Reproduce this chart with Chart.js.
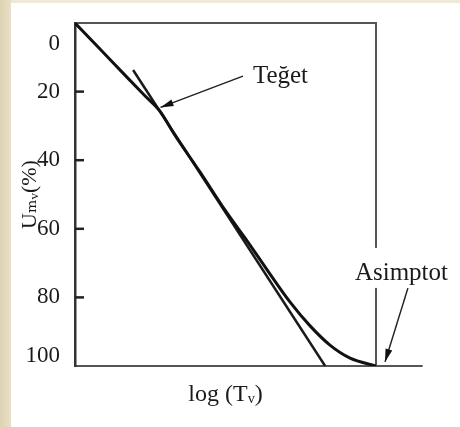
<!DOCTYPE html>
<html>
<head>
<meta charset="utf-8">
<script src="https://cdn.jsdelivr.net/npm/chart.js@4"></script>
<style>
  html, body { margin: 0; padding: 0; }
  body {
    width: 460px; height: 427px; overflow: hidden; position: relative;
    background: linear-gradient(to right, #ddd3b3 0px, #e8e0c8 11px, #efe9d9 12px);
  }
  #wrap { position: absolute; left: 11px; top: 3px; width: 449px; height: 424px; background: #fff; }
</style>
</head>
<body>
<div id="wrap"><canvas id="my-chart"></canvas></div>
<script>
// consolidation curve (x = log(Tv) in arbitrary units, y = Umv %)
const curveX = [0, 8.3, 16.6, 23.3, 28.2, 33.2, 41.5, 49.8, 58.1, 64.8, 71.4, 78.1, 84.7, 91.4, 100];
const curveY = [0, 7.6, 15.2, 21.3, 25.7, 32.7, 43.4, 54.5, 64.7, 73.2, 81.3, 88.3, 93.9, 97.7, 100];

// tangent line
const tangentX = [19.3, 83.1];
const tangentY = [13.7, 100];

// asymptote (continuation of the 100 % line past the frame)
const asymX = [100, 115.5];
const asymY = [100, 100];

// annotation arrows (last point = arrow tip)
const tegetArrowX = [55.8, 28.4];
const tegetArrowY = [15.5, 24.6];
const asimArrowX = [110.6, 103.0];
const asimArrowY = [77.3, 98.8];

const yTicks = [0, 20, 40, 60, 80, 100];
const yMarks = [20, 40, 60, 80];

const toPoints = (xs, ys) => xs.map((x, i) => ({ x, y: ys[i] }));

const serif = "'Liberation Serif', 'DejaVu Serif', serif";

// arrow heads and the two labels
const extras = {
  id: "extras",
  afterDatasetsDraw(chart) {
    const ctx = chart.ctx;
    const xs = chart.scales.x;
    const ys = chart.scales.y;

    // arrow heads at the end of the annotation lines
    chart.data.datasets.forEach((ds, i) => {
      if (!ds.arrow) return;
      const pts = chart.getDatasetMeta(i).data;
      const a = pts[pts.length - 2];
      const b = pts[pts.length - 1];
      const ang = Math.atan2(b.y - a.y, b.x - a.x);
      ctx.save();
      ctx.translate(b.x, b.y);
      ctx.rotate(ang);
      ctx.fillStyle = "#111";
      ctx.beginPath();
      ctx.moveTo(0, 0);
      ctx.lineTo(-13, -3.5);
      ctx.lineTo(-13, 3.5);
      ctx.closePath();
      ctx.fill();
      ctx.restore();
    });

    // labels, placed on data coordinates
    ctx.save();
    ctx.font = "25px " + serif;
    ctx.textBaseline = "alphabetic";
    ctx.textAlign = "left";

    // Asimptot sits on a white patch that breaks the right frame line
    const ax = xs.getPixelForValue(93.0);
    const ay = ys.getPixelForValue(74.9);
    const w = ctx.measureText("Asimptot").width;
    ctx.fillStyle = "#fff";
    ctx.fillRect(ax - 2, ay - 32, w + 4, 40);
    ctx.fillStyle = "#1a1a1a";
    ctx.fillText("Asimptot", ax, ay);

    ctx.fillText("Teğet", xs.getPixelForValue(59.1), ys.getPixelForValue(17.5));
    ctx.restore();
  }
};

const ctx = document.getElementById("my-chart").getContext("2d");

// short inward tick marks on the y axis, drawn as tiny line datasets
const tickSets = yMarks.map(v => ({
  data: [{ x: 0, y: v }, { x: 3, y: v }],
  borderColor: "#222",
  borderWidth: 2.5,
  pointRadius: 0
}));

const myChart = new Chart(ctx, {
  type: "line",
  data: {
    datasets: [
      {
        data: toPoints(curveX, curveY),
        borderColor: "#111",
        borderWidth: 3,
        cubicInterpolationMode: "monotone",
        pointRadius: 0
      },
      {
        data: toPoints(tangentX, tangentY),
        borderColor: "#1a1a1a",
        borderWidth: 2.5,
        pointRadius: 0
      },
      {
        data: toPoints(asymX, asymY),
        borderColor: "#555",
        borderWidth: 2,
        pointRadius: 0,
        clip: false
      },
      {
        data: toPoints(tegetArrowX, tegetArrowY),
        borderColor: "#222",
        borderWidth: 1.5,
        pointRadius: 0,
        arrow: true
      },
      {
        data: toPoints(asimArrowX, asimArrowY),
        borderColor: "#222",
        borderWidth: 1.5,
        pointRadius: 0,
        clip: false,
        arrow: true
      },
      ...tickSets
    ]
  },
  options: {
    responsive: true,
    maintainAspectRatio: false,
    animation: false,
    layout: { padding: { left: 0, top: 20, right: 84, bottom: 0 } },
    plugins: { legend: { display: false }, tooltip: { enabled: false } },
    scales: {
      x: {
        type: "linear",
        position: "bottom",
        min: 0,
        max: 100,
        afterFit: s => { s.height = 61; s.paddingLeft = 0; s.paddingRight = 0; },
        grid: { display: false },
        ticks: { display: false },
        border: { display: true, color: "#555", width: 2 },
        title: {
          display: true,
          text: "log (Tᵥ)",
          color: "#1a1a1a",
          font: { family: serif, size: 24 },
          padding: { top: 0, bottom: 18 }
        }
      },
      x2: {
        type: "linear",
        position: "top",
        min: 0,
        max: 100,
        afterFit: s => { s.height = 0; },
        grid: { display: false },
        ticks: { display: false },
        border: { display: true, color: "#555", width: 2 }
      },
      y: {
        type: "linear",
        position: "left",
        reverse: true,
        min: 0,
        max: 100,
        afterFit: s => { s.width = 64; s.paddingTop = 0; s.paddingBottom = 0; },
        afterBuildTicks: s => { s.ticks = yTicks.map(v => ({ value: v })); },
        grid: { display: false },
        border: { display: true, color: "#333", width: 2.5 },
        ticks: {
          padding: 7,
          color: "#1a1a1a",
          font: { family: serif, size: 23, lineHeight: 0.9 },
          callback: v => v === 0 ? ["", "", "0"] : v === 100 ? ["100", ""] : String(v)
        },
        title: {
          display: true,
          text: "Uₘᵥ(%)",
          color: "#1a1a1a",
          font: { family: serif, size: 22 },
          padding: { top: 6, bottom: 0 }
        }
      },
      y2: {
        type: "linear",
        position: "right",
        min: 0,
        max: 100,
        afterFit: s => { s.width = 0; },
        grid: { display: false },
        ticks: { display: false },
        border: { display: true, color: "#555", width: 2 }
      }
    }
  },
  plugins: [extras]
});
</script>
</body>
</html>
